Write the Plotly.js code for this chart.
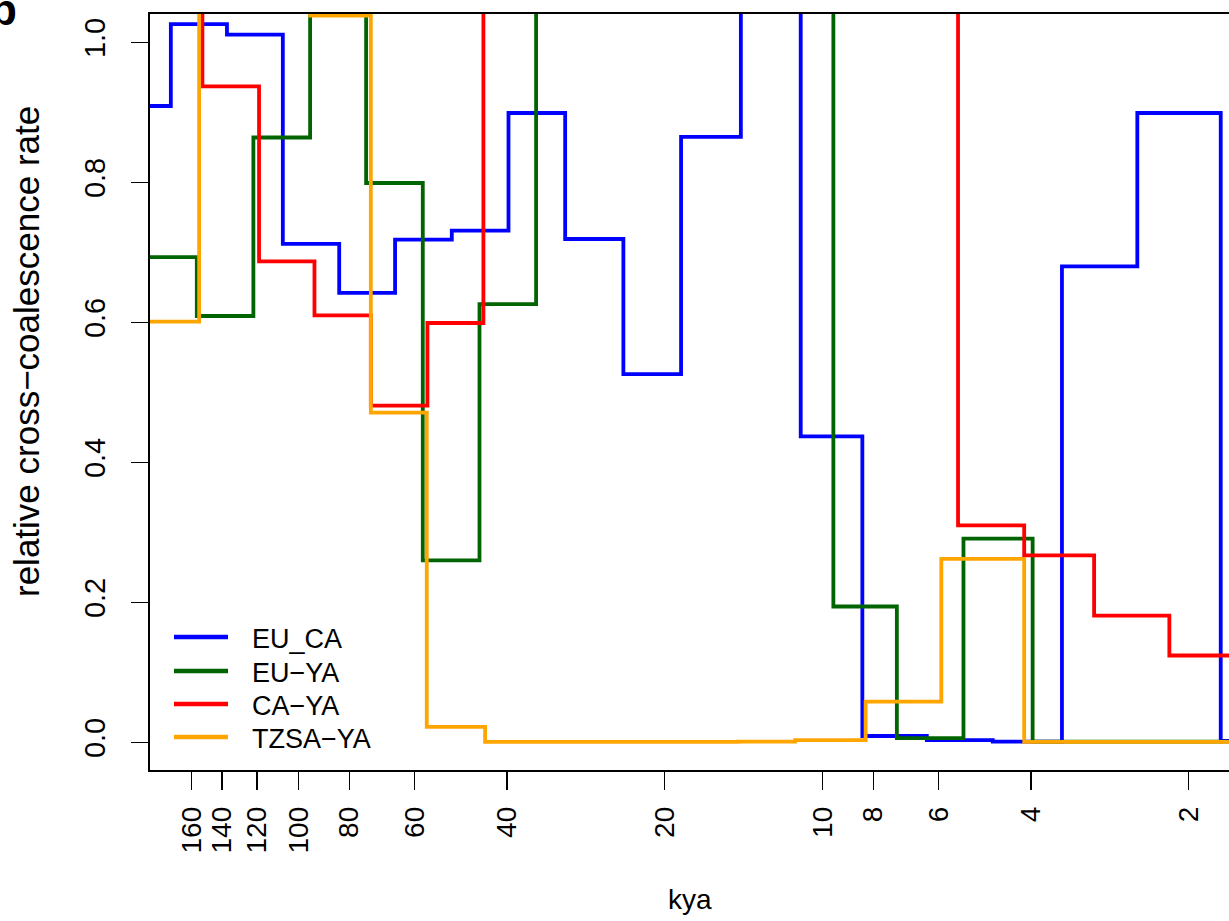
<!DOCTYPE html>
<html>
<head>
<meta charset="utf-8">
<script src="https://cdn.plot.ly/plotly-3.0.1.min.js"></script>
<style>html,body{margin:0;padding:0;background:#fff;}#chart{width:1229px;height:921px;}</style>
</head>
<body>
<div id="chart"></div>
<script>
// Segment start times (kya, oldest first) and relative cross-coalescence rates.
// Values above the axis top are clipped in the original figure.
const EU_CA_kya  = [192, 175.2, 136.9, 107.1, 83.6, 65.4, 50.97, 39.73, 30.97, 23.98, 18.61, 14.31, 11.0, 8.39, 6.32, 4.73, 3.49, 2.506, 1.737, 1.675];
const EU_CA_rate = [0.909, 1.026, 1.011, 0.712, 0.642, 0.718, 0.731, 0.899, 0.719, 0.526, 0.865, 1.25, 0.437, 0.009, 0.003, 0.001, 0.680, 0.899, 0.002, 0.002];

const EU_YA_kya  = [192, 156.3, 121.9, 95.0, 74.27, 57.9, 45.13, 35.19, 9.53, 7.21, 5.38, 3.97, 1.675];
const EU_YA_rate = [0.693, 0.609, 0.864, 1.25, 0.799, 0.260, 0.626, 1.25, 0.194, 0.006, 0.291, 0.001, 0.001];

const CA_YA_kya  = [192, 152.5, 118.9, 93.2, 72.75, 56.73, 44.36, 5.51, 4.12, 3.03, 2.177, 1.675];
const CA_YA_rate = [1.25, 0.937, 0.687, 0.610, 0.481, 0.599, 1.25, 0.310, 0.267, 0.181, 0.124, 0.124];

const TZSA_YA_kya  = [192, 154.7, 95.0, 72.75, 56.9, 44.03, 14.5, 11.27, 8.27, 5.93, 4.12, 1.675];
const TZSA_YA_rate = [0.601, 1.25, 1.038, 0.471, 0.022, 0.0007, 0.001, 0.003, 0.058, 0.262, 0.0005, 0.0005];

const seriesNames  = ["EU_CA", "EU\u2212YA", "CA\u2212YA", "TZSA\u2212YA"];
const seriesColors = ["#0000FF", "#006400", "#FF0000", "#FFA500"];

const xTickVals = [160, 140, 120, 100, 80, 60, 40, 20, 10, 8, 6, 4, 2];
const xTickText = ["160", "140", "120", "100", "80", "60", "40", "20", "10", "8", "6", "4", "2"];
const yTickVals = [0, 0.2, 0.4, 0.6, 0.8, 1.0];
const yTickText = ["0.0", "0.2", "0.4", "0.6", "0.8", "1.0"];

const xs = [EU_CA_kya, EU_YA_kya, CA_YA_kya, TZSA_YA_kya];
const ys = [EU_CA_rate, EU_YA_rate, CA_YA_rate, TZSA_YA_rate];

const FONT = "Liberation Sans, Arial, Helvetica, sans-serif";

const traces = xs.map((x, i) => ({
  x: x, y: ys[i], name: seriesNames[i], type: "scatter", mode: "lines",
  line: {shape: "hv", color: seriesColors[i], width: 3.8},
  showlegend: false
}));

const W = 1229, H = 921, L = 150, R = 0, T = 14, B = 151;
const pw = W - L - R, ph = H - T - B;
const px2x = p => (p - L) / pw;          // pixel -> paper x
const py2y = p => (T + ph - p) / ph;     // pixel -> paper y

// Hand-placed legend (R-style): sample line + label per series
const legendRowsPx = [637, 671, 704, 737];
const legendShapes = seriesNames.map((n, i) => ({
  type: "line", xref: "paper", yref: "paper",
  x0: px2x(174), x1: px2x(228), y0: py2y(legendRowsPx[i]), y1: py2y(legendRowsPx[i]),
  line: {color: seriesColors[i], width: 4.5}
}));
const legendLabels = seriesNames.map((n, i) => ({
  text: n, xref: "paper", yref: "paper",
  x: px2x(250), y: py2y(legendRowsPx[i] + 2), xanchor: "left", yanchor: "middle",
  showarrow: false, font: {family: FONT, size: 27, color: "#000"}
}));

const layout = {
  width: W, height: H,
  margin: {l: L, r: R, t: T, b: B, pad: 0},
  paper_bgcolor: "#fff", plot_bgcolor: "#fff",
  font: {family: FONT, color: "#000", size: 28},
  showlegend: false,
  xaxis: {
    type: "log", range: [Math.log10(192), Math.log10(1.675)],
    tickmode: "array", tickvals: xTickVals, ticktext: xTickText, tickangle: -90,
    ticks: "outside", ticklen: 18, tickwidth: 1.3, tickcolor: "#000",
    showline: true, linecolor: "#000", linewidth: 1.6, mirror: true,
    showgrid: false, zeroline: false, ticklabelstandoff: 6,
    tickfont: {family: FONT, size: 28, color: "#000"}
  },
  yaxis: {
    range: [-0.0396, 1.0404],
    tickmode: "array", tickvals: yTickVals, ticktext: yTickText, tickangle: -90,
    ticks: "outside", ticklen: 17, tickwidth: 1.3, tickcolor: "#000",
    showline: true, linecolor: "#000", linewidth: 1.6, mirror: true,
    showgrid: false, zeroline: false, ticklabelstandoff: 15,
    tickfont: {family: FONT, size: 29, color: "#000"}
  },
  shapes: legendShapes,
  annotations: legendLabels.concat([
    {text: "relative cross\u2212coalescence rate", xref: "paper", yref: "paper",
     x: px2x(26), y: py2y(352), xanchor: "center", yanchor: "middle",
     textangle: -90, showarrow: false, font: {family: FONT, size: 35, color: "#000"}},
    {text: "kya", xref: "paper", yref: "paper",
     x: px2x(690), y: py2y(899), xanchor: "center", yanchor: "middle",
     showarrow: false, font: {family: FONT, size: 28, color: "#000"}},
    {text: "<b>b</b>", xref: "paper", yref: "paper",
     x: px2x(19), y: py2y(10), xanchor: "right", yanchor: "middle",
     showarrow: false, font: {family: FONT, size: 44, color: "#000"}}
  ])
};

Plotly.newPlot("chart", traces, layout, {staticPlot: true, displayModeBar: false});
</script>
</body>
</html>
